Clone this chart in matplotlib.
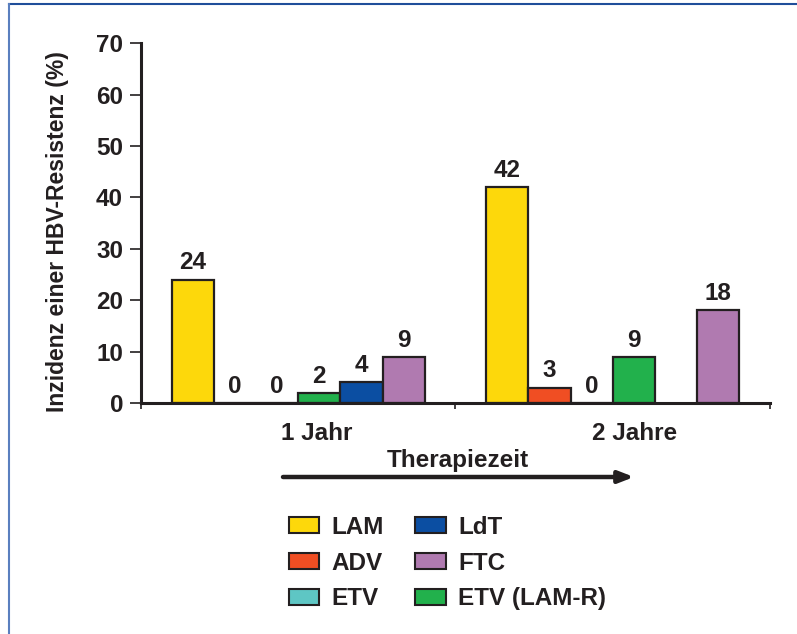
import numpy as np
import matplotlib
matplotlib.use('Agg')
import matplotlib.pyplot as plt
from matplotlib.patches import Patch
from matplotlib.lines import Line2D

plt.rcParams['font.family'] = ['Liberation Sans', 'DejaVu Sans']
plt.rcParams['font.weight'] = 'bold'

# data
groups = ['1 Jahr', '2 Jahre']
drugs = ['LAM', 'ADV', 'ETV', 'ETV (LAM-R)', 'LdT', 'FTC']
values = {
    'LAM': [24, 42],
    'ADV': [0, 3],
    'ETV': [0, 0],
    'ETV (LAM-R)': [2, 9],
    'LdT': [4, np.nan],
    'FTC': [9, 18],
}
colors = {
    'LAM': '#FDD80B',
    'ADV': '#F04E23',
    'ETV': '#5EC6C4',
    'ETV (LAM-R)': '#22B14C',
    'LdT': '#0B4EA2',
    'FTC': '#B07AB0',
}
legend_order = ['LAM', 'ADV', 'ETV', 'LdT', 'FTC', 'ETV (LAM-R)']

txt = '#231f20'
fs = 17.5
fig = plt.figure(figsize=(7.97, 6.34), dpi=100)
ax = fig.add_axes([0.177, 0.3644, 0.789, 0.5676])

w = 0.134
x = np.arange(len(groups))
for i, d in enumerate(drugs):
    pos = x + (i - 2.5) * w
    vals = values[d]
    for p, v in zip(pos, vals):
        if np.isnan(v):
            continue
        ax.bar(p, v, width=w, color=colors[d], edgecolor=txt, linewidth=1.6, zorder=2)
        ax.text(p, v + 1.0, '%d' % v, ha='center', va='bottom', fontsize=fs,
                fontweight='bold', color=txt)

ax.set_xlim(-0.5, 1.5)
ax.set_ylim(0, 70)
ax.set_yticks(range(0, 71, 10))
ax.set_xticks([-0.5, 0.5, 1.5])
ax.set_xticklabels([])
ax.set_xticks([0.06, 1.07], minor=True)
ax.set_xticklabels(groups, minor=True)
ax.tick_params(axis='x', which='minor', length=0, pad=14, labelsize=fs, labelcolor=txt)
ax.tick_params(axis='x', which='major', length=4, width=1.2, color=txt, direction='out')
ax.tick_params(axis='y', length=8, width=1.2, color=txt, labelsize=fs, labelcolor=txt, pad=5)
for lab in ax.get_yticklabels() + ax.get_xticklabels(minor=True):
    lab.set_fontweight('bold')

for s in ['top', 'right']:
    ax.spines[s].set_visible(False)
for s in ['left', 'bottom']:
    ax.spines[s].set_linewidth(2.2)
    ax.spines[s].set_color(txt)

ax.set_ylabel('Inzidenz einer HBV-Resistenz (%)', fontsize=16.5, fontweight='bold',
              color=txt)
ax.yaxis.set_label_coords(-0.1335, 0.475)
ax.yaxis.label.set_va('center')

# arrow "Therapiezeit"
fig.text(458 / 797, 1 - 460 / 634, 'Therapiezeit', ha='center', va='center',
         fontsize=fs, fontweight='bold', color=txt)
ax.annotate('', xy=(634 / 797, 1 - 477 / 634), xytext=(283 / 797, 1 - 477 / 634),
            xycoords='figure fraction', textcoords='figure fraction',
            arrowprops=dict(arrowstyle='-|>,head_length=0.9,head_width=0.35',
                            color=txt, lw=3.2, shrinkA=0, shrinkB=0))

handles = [Patch(facecolor=colors[d], edgecolor=txt, linewidth=1.5, label=d)
           for d in legend_order]
fig.legend(handles=handles, ncol=2, loc='upper left',
           bbox_to_anchor=(267 / 797, 1 - 494 / 634), frameon=False,
           prop={'size': fs, 'weight': 'bold'}, labelcolor=txt,
           handlelength=1.25, handleheight=0.65, handletextpad=0.5,
           columnspacing=1.3, labelspacing=0.52)

# blue frame lines at top and left
fig.add_artist(Line2D([9 / 797, 1], [1 - 4 / 634, 1 - 4 / 634], color='#1f4e9a', lw=1.5,
                      transform=fig.transFigure))
fig.add_artist(Line2D([9 / 797, 9 / 797], [0, 1 - 4 / 634], color='#5a7fbf', lw=1.5,
                      transform=fig.transFigure))

fig.savefig('out.png', dpi=100)
